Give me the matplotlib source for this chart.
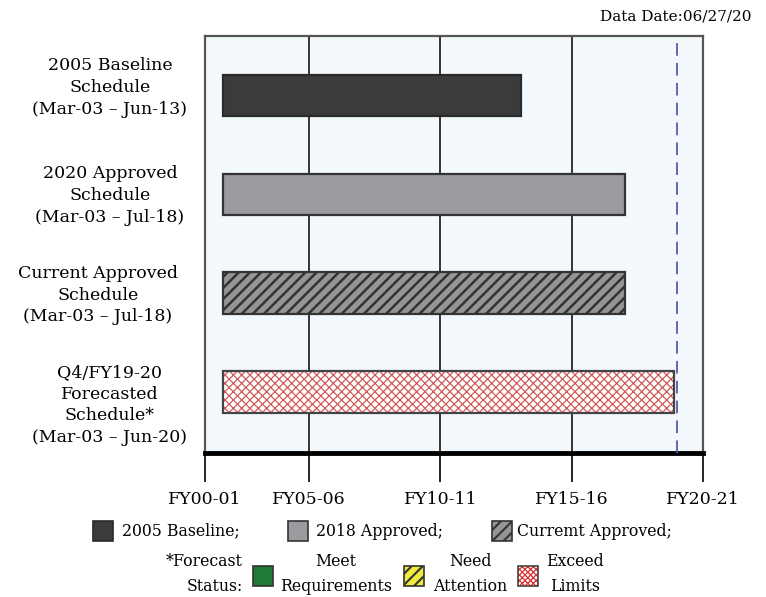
import matplotlib
matplotlib.use("Agg")
import matplotlib.pyplot as plt
import matplotlib.transforms as mtransforms
from matplotlib.patches import Rectangle

plt.rcParams['font.family'] = ['DejaVu Serif', 'DejaVu Sans']

# ---------------- data ----------------
schedule_labels = [
    "2005 Baseline\nSchedule\n(Mar-03 \u2013 Jun-13)",
    "2020 Approved\nSchedule\n(Mar-03 \u2013 Jul-18)",
    "Current Approved\nSchedule\n(Mar-03 \u2013 Jul-18)",
    "Q4/FY19-20\nForecasted\nSchedule*\n(Mar-03 \u2013 Jun-20)",
]
bar_start = [2003.22, 2003.22, 2003.22, 2003.22]
bar_end = [2014.56, 2018.52, 2018.52, 2020.39]
data_date = 2020.49
tick_values = [2002.55, 2006.5, 2011.5, 2016.5, 2021.5]
tick_labels = ["FY00-01", "FY05-06", "FY10-11", "FY15-16", "FY20-21"]
legend_top = ["2005 Baseline;", "2018 Approved;", "Curremt Approved;"]
status_labels = ["Meet\nRequirements", "Need\nAttention", "Exceed\nLimits"]

# ---------------- figure ----------------
W, H = 766, 597
fig = plt.figure(figsize=(W / 100, H / 100), dpi=100)

def fx(px):
    return px / W

def fy(py):
    return 1 - py / H

ax_l, ax_r, ax_t, ax_b = 205, 703.3, 35.7, 453
ax = fig.add_axes([fx(ax_l), fy(ax_b), fx(ax_r - ax_l), (ax_b - ax_t) / H])
ax.set_facecolor('#f3f8fc')

styles = [
    dict(facecolor='#3b3b3b', edgecolor='#2a2a2a', hatch=None, hcolor=None),
    dict(facecolor='#9b9b9f', edgecolor='#333333', hatch=None, hcolor=None),
    dict(facecolor='#959595', edgecolor='#333333', hatch='///', hcolor='#333333'),
    dict(facecolor='white', edgecolor='#444444', hatch='xxxx', hcolor='#d25a5a'),
]

def set_hlw(patch, lw):
    if hasattr(patch, 'set_hatch_linewidth'):
        patch.set_hatch_linewidth(lw)

ypos = list(range(len(schedule_labels)))
bh = 0.42
for y, s, e, st in zip(ypos, bar_start, bar_end, styles):
    if st['hatch']:
        b = ax.barh(y, e - s, left=s, height=bh, color=st['facecolor'],
                    edgecolor=st['hcolor'], hatch=st['hatch'], linewidth=0, zorder=3)
        for p in b:
            set_hlw(p, 1.8 if '/' in st['hatch'] else 0.9)
        ax.barh(y, e - s, left=s, height=bh, fill=False,
                edgecolor=st['edgecolor'], linewidth=1.6, zorder=4)
    else:
        ax.barh(y, e - s, left=s, height=bh, color=st['facecolor'],
                edgecolor=st['edgecolor'], linewidth=1.6, zorder=3)

ax.set_xlim(tick_values[0], tick_values[-1])
ax.set_ylim(3 + 0.617, -0.605)

ax.set_xticks(tick_values)
ax.set_xticklabels(tick_labels, fontsize=12.5)
ax.tick_params(axis='x', direction='out', length=21, width=1.2, color='black', pad=6)
ax.set_yticks([])
ax.grid(axis='x', color='black', linewidth=1.1, zorder=1)
ax.set_axisbelow(True)

ax.axvline(data_date, color='#5a5aaa', linewidth=1.3, dashes=(7, 4), zorder=5)

for side in ['top', 'right', 'left']:
    ax.spines[side].set_color('#555555')
    ax.spines[side].set_linewidth(1.6)
ax.spines['bottom'].set_color('black')
ax.spines['bottom'].set_linewidth(3.5)

# y labels (multi-line, centred)
label_cx = [110, 110, 98, 110]
label_dy = [-8, 1, 2, 13]   # pixel nudges relative to bar centre
blend = mtransforms.blended_transform_factory(fig.transFigure, ax.transData)
for y, lab, cx, dy in zip(ypos, schedule_labels, label_cx, label_dy):
    tr = blend + mtransforms.ScaledTranslation(0, -dy / 100, fig.dpi_scale_trans)
    fig.text(fx(cx), y, lab, transform=tr, ha='center', va='center',
             fontsize=12.5, linespacing=1.36, multialignment='center')

# data date
fig.text(fx(752), fy(17), "Data Date:06/27/20", ha='right', va='center', fontsize=11)

def square(x0, y0, w, h, st, lw=1.2):
    if st['hatch']:
        r = Rectangle((fx(x0), fy(y0 + h)), w / W, h / H, transform=fig.transFigure,
                      facecolor=st['facecolor'], edgecolor=st['hcolor'], hatch=st['hatch'],
                      linewidth=0)
        set_hlw(r, 1.5 if '/' in st['hatch'] else 0.9)
        fig.patches.append(r)
        r2 = Rectangle((fx(x0), fy(y0 + h)), w / W, h / H, transform=fig.transFigure,
                       fill=False, edgecolor=st['edgecolor'], linewidth=lw)
        fig.patches.append(r2)
    else:
        r = Rectangle((fx(x0), fy(y0 + h)), w / W, h / H, transform=fig.transFigure,
                      facecolor=st['facecolor'], edgecolor=st['edgecolor'], linewidth=lw)
        fig.patches.append(r)

# legend row 1
row1_y = 531
sq_x = [93, 288, 492]
txt_x = [122, 316, 517]
for i in range(3):
    square(sq_x[i], row1_y - 10, 20, 20, styles[i])
    fig.text(fx(txt_x[i]), fy(row1_y), legend_top[i], ha='left', va='center', fontsize=11.3)

# legend row 2 (forecast status)
row2_y = 574
fig.text(fx(243), fy(row2_y), "*Forecast\nStatus:", ha='right', va='center',
         fontsize=11.3, linespacing=1.55, multialignment='right')
status_styles = [
    dict(facecolor='#1f7a35', edgecolor='#333333', hatch=None, hcolor=None),
    dict(facecolor='#f2ea3a', edgecolor='#333333', hatch='///', hcolor='#333333'),
    dict(facecolor='white', edgecolor='#444444', hatch='xxxxxx', hcolor='#e03030'),
]
st_sq_x = [253, 404, 518]
st_txt_x = [336, 470, 575]
for i in range(3):
    square(st_sq_x[i], row2_y - 8, 20, 20, status_styles[i])
    fig.text(fx(st_txt_x[i]), fy(row2_y), status_labels[i], ha='center', va='center',
             fontsize=11.3, linespacing=1.55, multialignment='center')

fig.savefig("out.png", dpi=100)
